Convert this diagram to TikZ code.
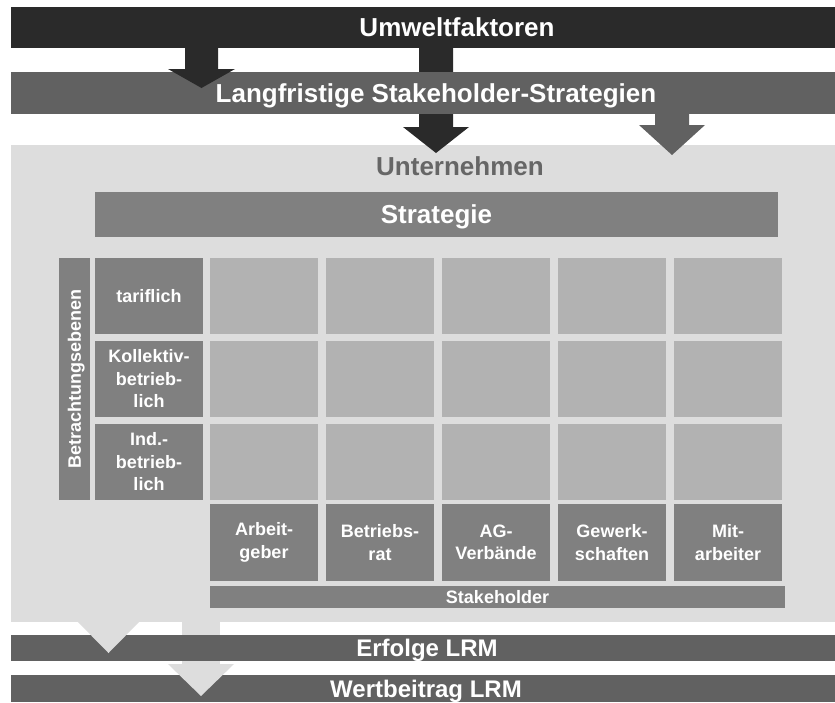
\documentclass[tikz,border=0pt]{standalone}
\usepackage{fontspec}
\setmainfont{Liberation Sans}
\definecolor{cdark}{HTML}{2A2A2A}
\definecolor{cbartwo}{HTML}{616161}
\definecolor{cpanel}{HTML}{DDDDDD}
\definecolor{cmid}{HTML}{808080}
\definecolor{ccell}{HTML}{B2B2B2}
\definecolor{cunter}{HTML}{666666}
\newcommand{\blk}[7]{\node[#1, minimum width={(#5-#3)*1pt}, minimum height={(#6-#4)*1pt}] (#2) at ({(#3+#5)/2},{(#4+#6)/2}) {#7};}
\tikzset{
  blkbase/.style={rectangle, inner sep=0pt, outer sep=0pt, text=white, align=center},
  bigtxt/.style={font=\fontsize{26}{30}\selectfont\bfseries, text height=18.6pt, text depth=0pt},
  midtxt/.style={font=\fontsize{24}{28}\selectfont\bfseries, text height=17.2pt, text depth=0pt},
  smalltxt/.style={font=\fontsize{18}{22.5}\selectfont\bfseries},
  darkbar/.style={blkbase, fill=cdark, bigtxt},
  greybar/.style={blkbase, fill=cbartwo, bigtxt},
  lowbar/.style={blkbase, fill=cbartwo, midtxt},
  panelbox/.style={blkbase, fill=cpanel},
  midbox/.style={blkbase, fill=cmid, smalltxt},
  cellbox/.style={blkbase, fill=ccell},
}
\begin{document}
\begin{tikzpicture}[x=1pt,y=-1pt]
\useasboundingbox (0,0) rectangle (835,702);
\clip (0,0) rectangle (835,702);

% company panel
\blk{panelbox}{panel}{11}{145}{860}{622}{}
\node[text=cunter, font=\fontsize{26}{30}\selectfont\bfseries, inner sep=0pt, text height=18.6pt, text depth=0pt] (unter) at (460,166) {Unternehmen};

% arrow B (behind bar 2)
\fill[cdark] (419,40) -- (453,40) -- (453,127) -- (469,127) -- (436,153) -- (403,127) -- (419,127) -- cycle;

% top bars
\blk{darkbar}{umwelt}{11}{7}{903}{48}{Umweltfaktoren}
\blk{greybar}{lang}{11}{72}{861}{114}{Langfristige Stakeholder-Strategien}

% arrow A
\fill[cdark] (185,45) -- (218,45) -- (218,69) -- (235,69) -- (201.5,88) -- (168,69) -- (185,69) -- cycle;
% arrow C
\fill[cbartwo] (655,110) -- (689,110) -- (689,125) -- (705,125) -- (672,155) -- (639,125) -- (655,125) -- cycle;

% strategy bar
\blk{midbox, bigtxt}{strat}{95}{192}{778}{236.5}{Strategie}

% Betrachtungsebenen
\node[blkbase, fill=cmid, font=\fontsize{18}{22}\selectfont\bfseries, text height=12.9pt, text depth=0pt, rotate=90, minimum width=242pt, minimum height=31pt] (betr) at (74.5,379) {Betrachtungsebenen};

% row labels
\blk{midbox}{r1}{95}{258}{203}{334}{tariflich}
\blk{midbox}{r2}{95}{341}{203}{417}{Kollektiv-\\betrieb-\\lich}
\blk{midbox}{r3}{95}{424}{203}{500}{Ind.-\\betrieb-\\lich}

% cells
\foreach \c/\x in {1/210,2/326,3/442,4/558,5/674}{
  \foreach \r/\y in {1/258,2/341,3/424}{
    \blk{cellbox}{c\r\c}{\x}{\y}{\x+108}{\y+76}{}
  }
}

% stakeholders
\blk{midbox}{s1}{210}{504}{318}{581}{Arbeit-\\geber}
\blk{midbox}{s2}{326}{504}{434}{581}{Betriebs-\\rat}
\blk{midbox}{s3}{442}{504}{550}{581}{AG-\\Verbände}
\blk{midbox}{s4}{558}{504}{666}{581}{Gewerk-\\schaften}
\blk{midbox}{s5}{674}{504}{782}{581}{Mit-\\arbeiter}
\blk{midbox, font=\fontsize{18}{21}\selectfont\bfseries, text height=12.9pt, text depth=0pt}{stk}{210}{586}{785}{608}{Stakeholder}

% arrow E shaft
\fill[cpanel] (182,618) rectangle (220,664);

% bottom bars
\blk{lowbar}{erfolg}{11}{635}{843}{661}{Erfolge LRM}
\blk{lowbar}{wert}{11}{675}{841}{702}{Wertbeitrag LRM}

% arrow heads D and E
\fill[cpanel] (76,620) -- (141,620) -- (108.5,653) -- cycle;
\fill[cpanel] (168,664) -- (234,664) -- (201,696) -- cycle;
\end{tikzpicture}
\end{document}
